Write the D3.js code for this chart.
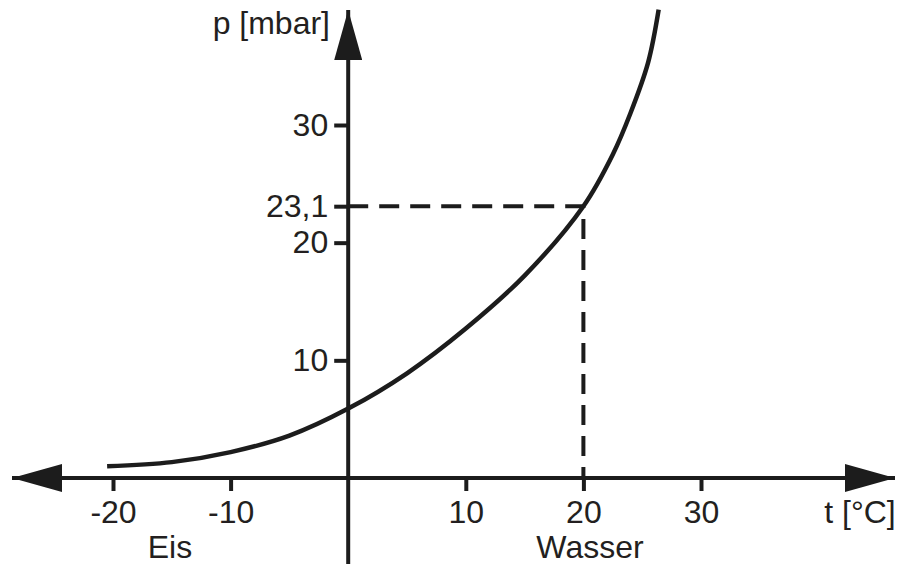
<!DOCTYPE html>
<html>
<head>
<meta charset="utf-8">
<script src="https://cdn.jsdelivr.net/npm/d3@7"></script>
<style>
  body { margin: 0; background: #fff; }
  svg text { font-family: "Liberation Sans", Arial, Helvetica, sans-serif; fill: #231f20; }
</style>
</head>
<body>
<svg id="chart" width="903" height="564"></svg>
<script>
// vapour pressure curve
var temps     = [-20.5, -15, -10, -5, 0, 5, 10, 15, 20, 22.5, 24, 25.5, 26.4];
var pressures = [1.0, 1.35, 2.2, 3.6, 5.9, 8.9, 12.7, 17.2, 23.1, 27.5, 31.0, 35.3, 39.8];

var xTicks = [-20, -10, 10, 20, 30];
var yTicks = [10, 20, 23.1, 30];
var yTickLabels = ["10", "20", "23,1", "30"];
var marked = { t: 20, p: 23.1 };

var svg = d3.select("#chart"),
    W = 903, H = 564,
    ink = "#1c1c1c";

var x = d3.scaleLinear().domain([-20, 30]).range([113, 701]);
var y = d3.scaleLinear().domain([0, 30]).range([478, 125]);

// arrowhead markers
var defs = svg.append("defs");
defs.append("marker")
    .attr("id", "arrow")
    .attr("viewBox", "0 0 50 28")
    .attr("refX", 50).attr("refY", 14)
    .attr("markerWidth", 50).attr("markerHeight", 28)
    .attr("markerUnits", "userSpaceOnUse")
    .attr("orient", "auto-start-reverse")
  .append("path")
    .attr("d", "M0,0 L50,14 L0,28 Z")
    .attr("fill", ink);

// x axis line with arrows both ends
svg.append("line")
    .attr("x1", 12).attr("x2", 895)
    .attr("y1", y(0)).attr("y2", y(0))
    .attr("stroke", ink).attr("stroke-width", 4)
    .attr("marker-start", "url(#arrow)")
    .attr("marker-end", "url(#arrow)");

// y axis line, arrow on top
svg.append("line")
    .attr("x1", x(0)).attr("x2", x(0))
    .attr("y1", H).attr("y2", 10)
    .attr("stroke", ink).attr("stroke-width", 4)
    .attr("marker-end", "url(#arrow)");

var xAxis = d3.axisBottom(x)
    .tickValues(xTicks)
    .tickSize(13)
    .tickPadding(9)
    .tickFormat(function(d) { return String(d); });

var gx = svg.append("g")
    .attr("transform", "translate(0," + y(0) + ")")
    .call(xAxis);
gx.select(".domain").remove();
gx.selectAll(".tick line").attr("stroke", ink).attr("stroke-width", 4);
gx.selectAll(".tick text").attr("font-size", 32).attr("fill", "#231f20");

var yAxis = d3.axisLeft(y)
    .tickValues(yTicks)
    .tickSize(14)
    .tickPadding(6)
    .tickFormat(function(d, i) { return yTickLabels[i]; });

var gy = svg.append("g")
    .attr("transform", "translate(" + x(0) + ",0)")
    .call(yAxis);
gy.select(".domain").remove();
gy.selectAll(".tick line").attr("stroke", ink).attr("stroke-width", 4);
gy.selectAll(".tick text").attr("font-size", 32).attr("fill", "#231f20");

// dashed guide lines
svg.append("path")
    .attr("d", "M" + x(0) + "," + y(marked.p) + "H" + x(marked.t) + "V" + y(0))
    .attr("fill", "none")
    .attr("stroke", ink)
    .attr("stroke-width", 4)
    .attr("stroke-dasharray", "20,11");

// curve
var line = d3.line()
    .x(function(d, i) { return x(temps[i]); })
    .y(function(d) { return y(d); })
    .curve(d3.curveCatmullRom.alpha(0.5));

svg.append("path")
    .attr("d", line(pressures))
    .attr("fill", "none")
    .attr("stroke", ink)
    .attr("stroke-width", 4.5);

// axis titles and region labels
svg.append("text")
    .attr("x", 330).attr("y", 34)
    .attr("text-anchor", "end")
    .attr("font-size", 32)
    .text("p [mbar]");

svg.append("text")
    .attr("x", 860).attr("y", 523)
    .attr("text-anchor", "middle")
    .attr("font-size", 32)
    .text("t [°C]");

svg.append("text")
    .attr("x", 170).attr("y", 558)
    .attr("text-anchor", "middle")
    .attr("font-size", 32)
    .text("Eis");

svg.append("text")
    .attr("x", 590).attr("y", 558)
    .attr("text-anchor", "middle")
    .attr("font-size", 32)
    .text("Wasser");
</script>
</body>
</html>
